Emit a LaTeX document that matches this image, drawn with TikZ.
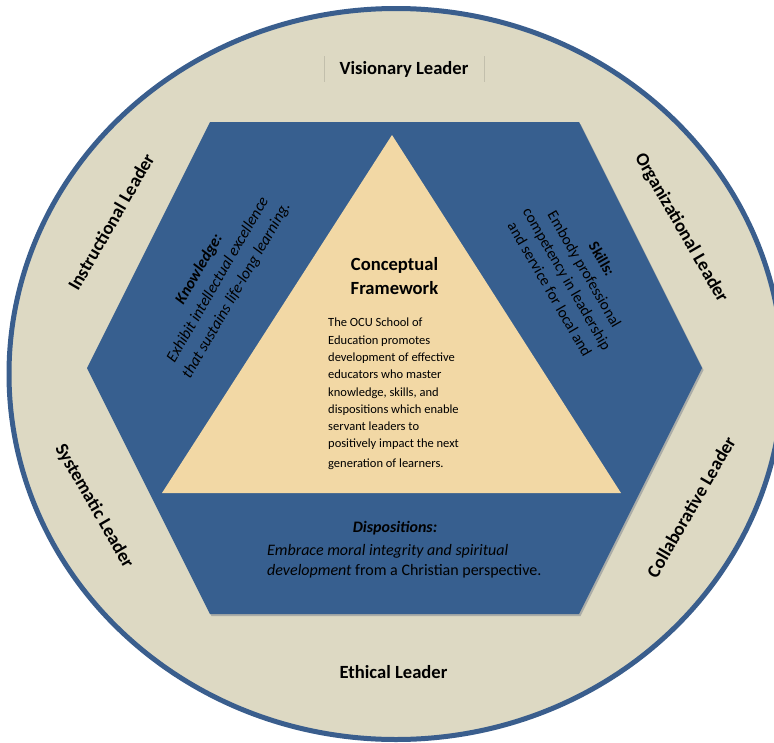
\documentclass[tikz,border=0pt]{standalone}
\usepackage{fontspec}
\setmainfont{Carlito}
\definecolor{ringc}{RGB}{221,217,195}
\definecolor{ringedge}{RGB}{58,94,141}
\definecolor{hexc}{RGB}{55,95,143}
\definecolor{hexshade}{RGB}{120,128,140}
\definecolor{triac}{RGB}{242,216,165}

\begin{document}
\begin{tikzpicture}[x=1pt, y=-1pt, inner sep=0pt,
  leader/.style={font=\bfseries\fontsize{18.6}{22}\selectfont},
  pillar/.style={font=\fontsize{15.5}{20}\selectfont, align=center},
  boxedge/.style={draw=black!12!ringc, line width=0.6pt}]

% canvas in pixel units, y pointing down: 774 x 742
\useasboundingbox (0,0) rectangle (774,742);
\clip (0,0) rectangle (774,742);

%% ── outer ring ───────────────────────────────────────────────────
\filldraw[fill=ringc, draw=ringedge, line width=5pt]
  (396,374) ellipse [x radius=387, y radius=365.5];

%% ── hexagon (with a soft drop shadow) ────────────────────────────
\fill[hexshade, opacity=0.5, shift={(1.5,2)}]
  (210,122) -- (579,122) -- (702,368) -- (579,614) -- (210,614) -- (87,368) -- cycle;
\fill[hexc]
  (210,122) -- (579,122) -- (702,368) -- (579,614) -- (210,614) -- (87,368) -- cycle;

%% ── inner triangle ───────────────────────────────────────────────
\fill[triac] (392,135) -- (621,493) -- (162,493) -- cycle;

%% ── leader roles round the ring ──────────────────────────────────
\node[leader, inner xsep=15.5pt, minimum height=25pt] (visionary) at (404,69) {Visionary Leader};
\draw[boxedge] (visionary.north west) -- (visionary.south west);
\draw[boxedge] (visionary.north east) -- (visionary.south east);
\node[leader] (ethical) at (393.5,672) {Ethical Leader};
\node[leader, rotate=60]  (instructional)  at (111,222) {Instructional Leader};
\node[leader, rotate=-60] (organizational) at (681,228) {Organizational Leader};
\node[leader, rotate=-60] (systematic)     at (94,506)  {Systematic Leader};
\node[leader, rotate=60]  (collaborative)  at (691,507) {Collaborative Leader};

%% ── the three pillars on the hexagon ─────────────────────────────
\node[pillar, font=\itshape\fontsize{16}{21.5}\selectfont, rotate=60] (knowledge) at (218,280)
  {\textbf{Knowledge:}\\Exhibit intellectual excellence\\that sustains life-long learning.};
\node[pillar, rotate=-60] (skills) at (576,274)
  {\textbf{Skills:}\\Embody professional\\competency in leadership\\and service for local and};
\node[font=\bfseries\itshape\fontsize{16}{20}\selectfont] (disphead) at (395,528) {Dispositions:};
\node[font=\fontsize{16}{20}\selectfont, align=left, anchor=west] (dispbody) at (267,561)
  {\textit{Embrace moral integrity and spiritual}\\\textit{development} from a Christian perspective.};

%% ── framework statement in the triangle ──────────────────────────
\node[font=\bfseries\fontsize{18.6}{24}\selectfont, align=center] (title) at (394.5,276)
  {Conceptual\\Framework};
\node[font=\fontsize{12.5}{17.3}\selectfont, align=left, anchor=north west] (statement) at (328,318)
  {The OCU School of\\Education promotes\\development of effective\\educators who master\\
   knowledge, skills, and\\dispositions which enable\\servant leaders to\\
   positively impact the next\\[2pt]generation of learners.};

\end{tikzpicture}
\end{document}
